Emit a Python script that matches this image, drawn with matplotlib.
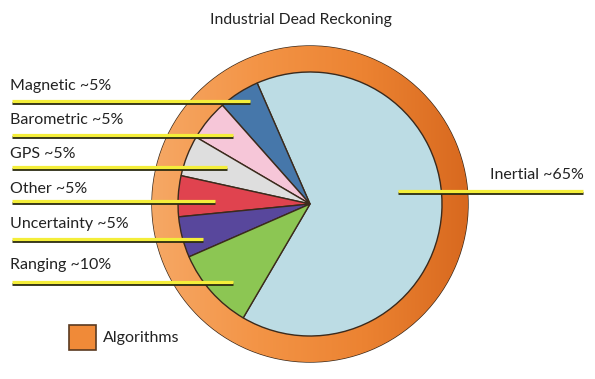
import matplotlib.pyplot as plt
import numpy as np
from matplotlib.colors import LinearSegmentedColormap
from matplotlib.patches import Rectangle

plt.rcParams['font.family'] = ['Lato', 'DejaVu Sans']

# data
labels = ['Inertial', 'Magnetic', 'Barometric', 'GPS', 'Other', 'Uncertainty', 'Ranging']
shares = [65, 5, 5, 5, 5, 5, 10]
colors = ['#bcdce4', '#4677aa', '#f6c6d8', '#dedede', '#e0434f', '#58479c', '#8cc653']
title = 'Industrial Dead Reckoning'
ring_label = 'Algorithms'

W, H = 595, 379
fig = plt.figure(figsize=(W / 100, H / 100), dpi=100)
ax = fig.add_axes([0, 0, 1, 1])

cx, cy = 310, H - 204
r_in, r_out = 132, 158
edge = '#3b2a1c'

# outer ring (algorithms)
ring, _ = ax.pie([1], radius=r_out, center=(cx, cy), frame=True,
                 wedgeprops=dict(width=r_out - r_in, facecolor='#ee8a36',
                                 edgecolor=edge, linewidth=1.0))
cmap = LinearSegmentedColormap.from_list('ring', ['#f6a865', '#f39446', '#ec8332', '#d8691f'])
grad = np.linspace(0, 1, 256).reshape(1, -1)
im = ax.imshow(grad, cmap=cmap, aspect='auto', zorder=1.5,
               extent=(cx - r_out, cx + r_out, cy - r_out, cy + r_out))
im.set_clip_path(ring[0])

# inner pie
wedges, _ = ax.pie(shares, radius=r_in, center=(cx, cy), startangle=-120.4,
                   counterclock=True, colors=colors, frame=True,
                   wedgeprops=dict(edgecolor=edge, linewidth=1.0))
for w in wedges:
    w.set_zorder(2)

def label_line(x0, x1, y):
    yy = H - y
    ax.plot([x0, x1], [yy - 1.2, yy - 1.2], color='#2a2a10', lw=2.0,
            solid_capstyle='butt', zorder=5)
    ax.plot([x0, x1], [yy + 0.6, yy + 0.6], color='#f4ee3a', lw=2.3,
            solid_capstyle='butt', zorder=6)

txt = '#222222'
left_rows = [('Magnetic', 86, 102, 250), ('Barometric', 120, 136, 233),
             ('GPS', 154, 168, 227), ('Other', 189, 202, 215),
             ('Uncertainty', 224, 240, 203), ('Ranging', 265, 283, 233)]
for name, ty, ly, x1 in left_rows:
    i = labels.index(name)
    ax.text(10, H - ty, f'{name} ~{shares[i]}%', fontsize=11.5, color=txt,
            ha='left', va='center', zorder=7)
    label_line(12, x1, ly)

ax.text(490, H - 175, f'Inertial ~{shares[0]}%', fontsize=11.5, color=txt,
        ha='left', va='center', zorder=7)
label_line(398, 583, 192)

ax.text(301, H - 20, title, fontsize=11.3, color=txt, ha='center', va='center')

# legend
ax.add_patch(Rectangle((69, H - 350), 27, 25, facecolor='#f08a38',
                       edgecolor='#5a3a20', linewidth=1.2, zorder=3))
ax.text(103, H - 338, ring_label, fontsize=11.5, color=txt, ha='left', va='center')

ax.set_xlim(0, W)
ax.set_ylim(0, H)
ax.set_aspect('auto')
ax.axis('off')
fig.savefig('out.png', dpi=100, facecolor='white')
